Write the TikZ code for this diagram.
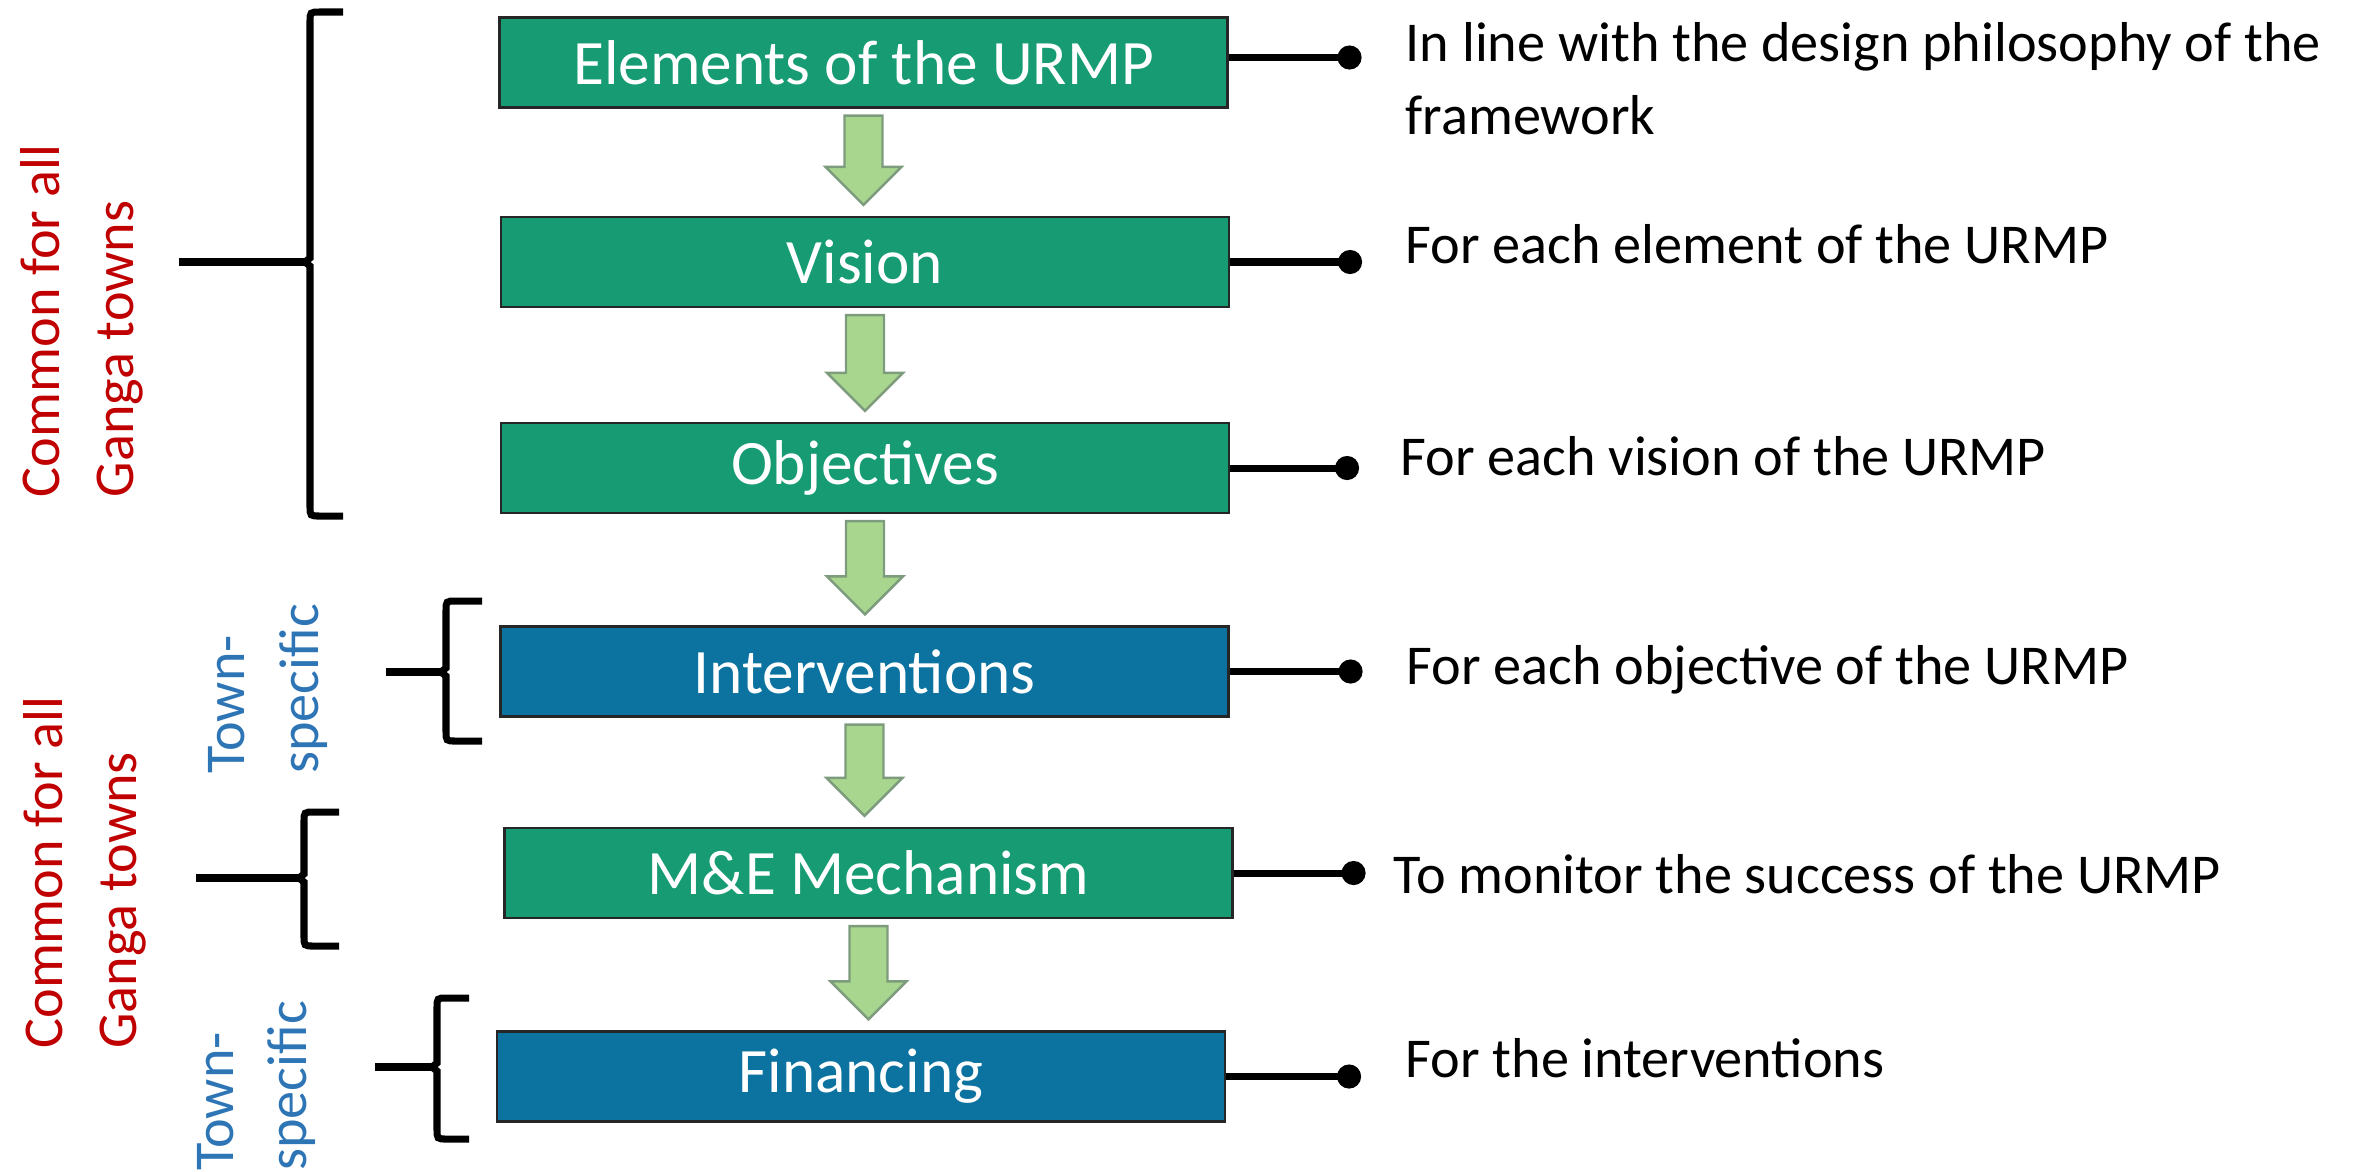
\documentclass[tikz,border=0pt]{standalone}
\usepackage{fontspec}
\setmainfont{Carlito}
\usetikzlibrary{arrows.meta,calc}
\definecolor{boxgreen}{RGB}{22,155,115}
\definecolor{boxblue}{RGB}{12,115,160}
\definecolor{arrowfill}{RGB}{169,214,142}
\definecolor{arrowline}{RGB}{125,155,125}
\definecolor{labelred}{RGB}{192,0,0}
\definecolor{labelblue}{RGB}{46,117,182}

\newcommand{\flowarrow}[2]{%
  \filldraw[flowarrow] let \p1=(#1.south), \p2=(#2.north) in
    (\x1-0.19cm,\y1-0.07cm) -- (\x1-0.19cm,\y2+0.49cm) -- (\x1-0.38cm,\y2+0.49cm)
    -- (\x1,\y2+0.11cm) -- (\x1+0.38cm,\y2+0.49cm) -- (\x1+0.19cm,\y2+0.49cm)
    -- (\x1+0.19cm,\y1-0.07cm) -- cycle;}
\newcommand{\groupbrace}[6]{%
  \draw[brace] (#3,#4) -- (#2+0.1,#4) .. controls (#2,#4) .. (#2,#4-0.1)
    -- (#2,#5+0.04) -- (#2-0.05,#5) coordinate (#1) -- (#2,#5-0.04)
    -- (#2,#6+0.1) .. controls (#2,#6) .. (#2+0.1,#6) -- (#3,#6);}

\begin{document}
\begin{tikzpicture}[
    flowbox/.style={draw=black!85, line width=0.6pt, minimum width=7.28cm, minimum height=0.9cm,
      inner sep=0pt, text=white, font=\fontsize{18}{21}\selectfont},
    greenbox/.style={flowbox, fill=boxgreen},
    bluebox/.style={flowbox, fill=boxblue},
    flowarrow/.style={fill=arrowfill, draw=arrowline, line width=0.7pt},
    tick/.style={line width=2pt, -{Circle[length=0.24cm]}},
    brace/.style={line width=2pt},
    stem/.style={line width=2.4pt},
    note/.style={anchor=base west, inner sep=0pt, align=left, font=\fontsize{16}{20.5}\selectfont},
    scopelabel/.style={rotate=90, inner sep=0pt, align=left, font=\fontsize{16}{21}\selectfont},
  ]
  \useasboundingbox (0,0) rectangle (23.56,-11.71);

  \node[greenbox] (elem) at (8.635,-0.625) {Elements of the URMP};
  \node[greenbox] (vis) at (8.65,-2.62) {Vision};
  \node[greenbox] (obj) at (8.65,-4.68) {Objectives};
  \node[bluebox] (interv) at (8.645,-6.715) {Interventions};
  \node[greenbox] (mne) at (8.685,-8.73) {M\&E Mechanism};
  \node[bluebox] (fin) at (8.61,-10.765) {Financing};

  \flowarrow{elem}{vis}
  \flowarrow{vis}{obj}
  \flowarrow{obj}{interv}
  \flowarrow{interv}{mne}
  \flowarrow{mne}{fin}

  \draw[tick] ([yshift=0.05cm]elem.east) -- ++(1.33,0) coordinate (d1);
  \draw[tick] (vis.east) -- ++(1.32,0) coordinate (d2);
  \draw[tick] (obj.east) -- ++(1.29,0) coordinate (d3);
  \draw[tick] (interv.east) -- ++(1.33,0) coordinate (d4);
  \draw[tick] (mne.east) -- ++(1.32,0) coordinate (d5);
  \draw[tick] (fin.east) -- ++(1.35,0) coordinate (d6);

  \node[note] (n1) at (14.05,-1.34) {In line with the design philosophy of the\\framework};
  \node[note] (n2) at (14.05,-2.63) {For each element of the URMP};
  \node[note] (n3) at (14.00,-4.75) {For each vision of the URMP};
  \node[note] (n4) at (14.06,-6.84) {For each objective of the URMP};
  \node[note] (n5) at (13.93,-8.93) {To monitor the success of the URMP};
  \node[note] (n6) at (14.05,-10.77) {For the interventions};

  \groupbrace{k1}{3.10}{3.43}{-0.12}{-2.62}{-5.16}
  \groupbrace{k2}{4.46}{4.82}{-6.01}{-6.72}{-7.41}
  \groupbrace{k3}{3.04}{3.39}{-8.12}{-8.78}{-9.46}
  \groupbrace{k4}{4.37}{4.69}{-9.98}{-10.67}{-11.39}

  \coordinate (s1) at (1.79,-2.62);
  \coordinate (s2) at (3.86,-6.72);
  \coordinate (s3) at (1.96,-8.78);
  \coordinate (s4) at (3.75,-10.67);
  \draw[stem] (s1) -- (k1);
  \draw[stem] (s2) -- (k2);
  \draw[stem] (s3) -- (k3);
  \draw[stem] (s4) -- (k4);

  \node[scopelabel, text=labelred] (common1) at (0.82,-3.21) {Common for all\\Ganga towns};
  \node[scopelabel, text=labelblue] (town1) at (2.68,-6.89) {Town-\\specific};
  \node[scopelabel, text=labelred] (common2) at (0.85,-8.725) {Common for all\\Ganga towns};
  \node[scopelabel, text=labelblue] (town2) at (2.565,-10.86) {Town-\\specific};
\end{tikzpicture}
\end{document}
